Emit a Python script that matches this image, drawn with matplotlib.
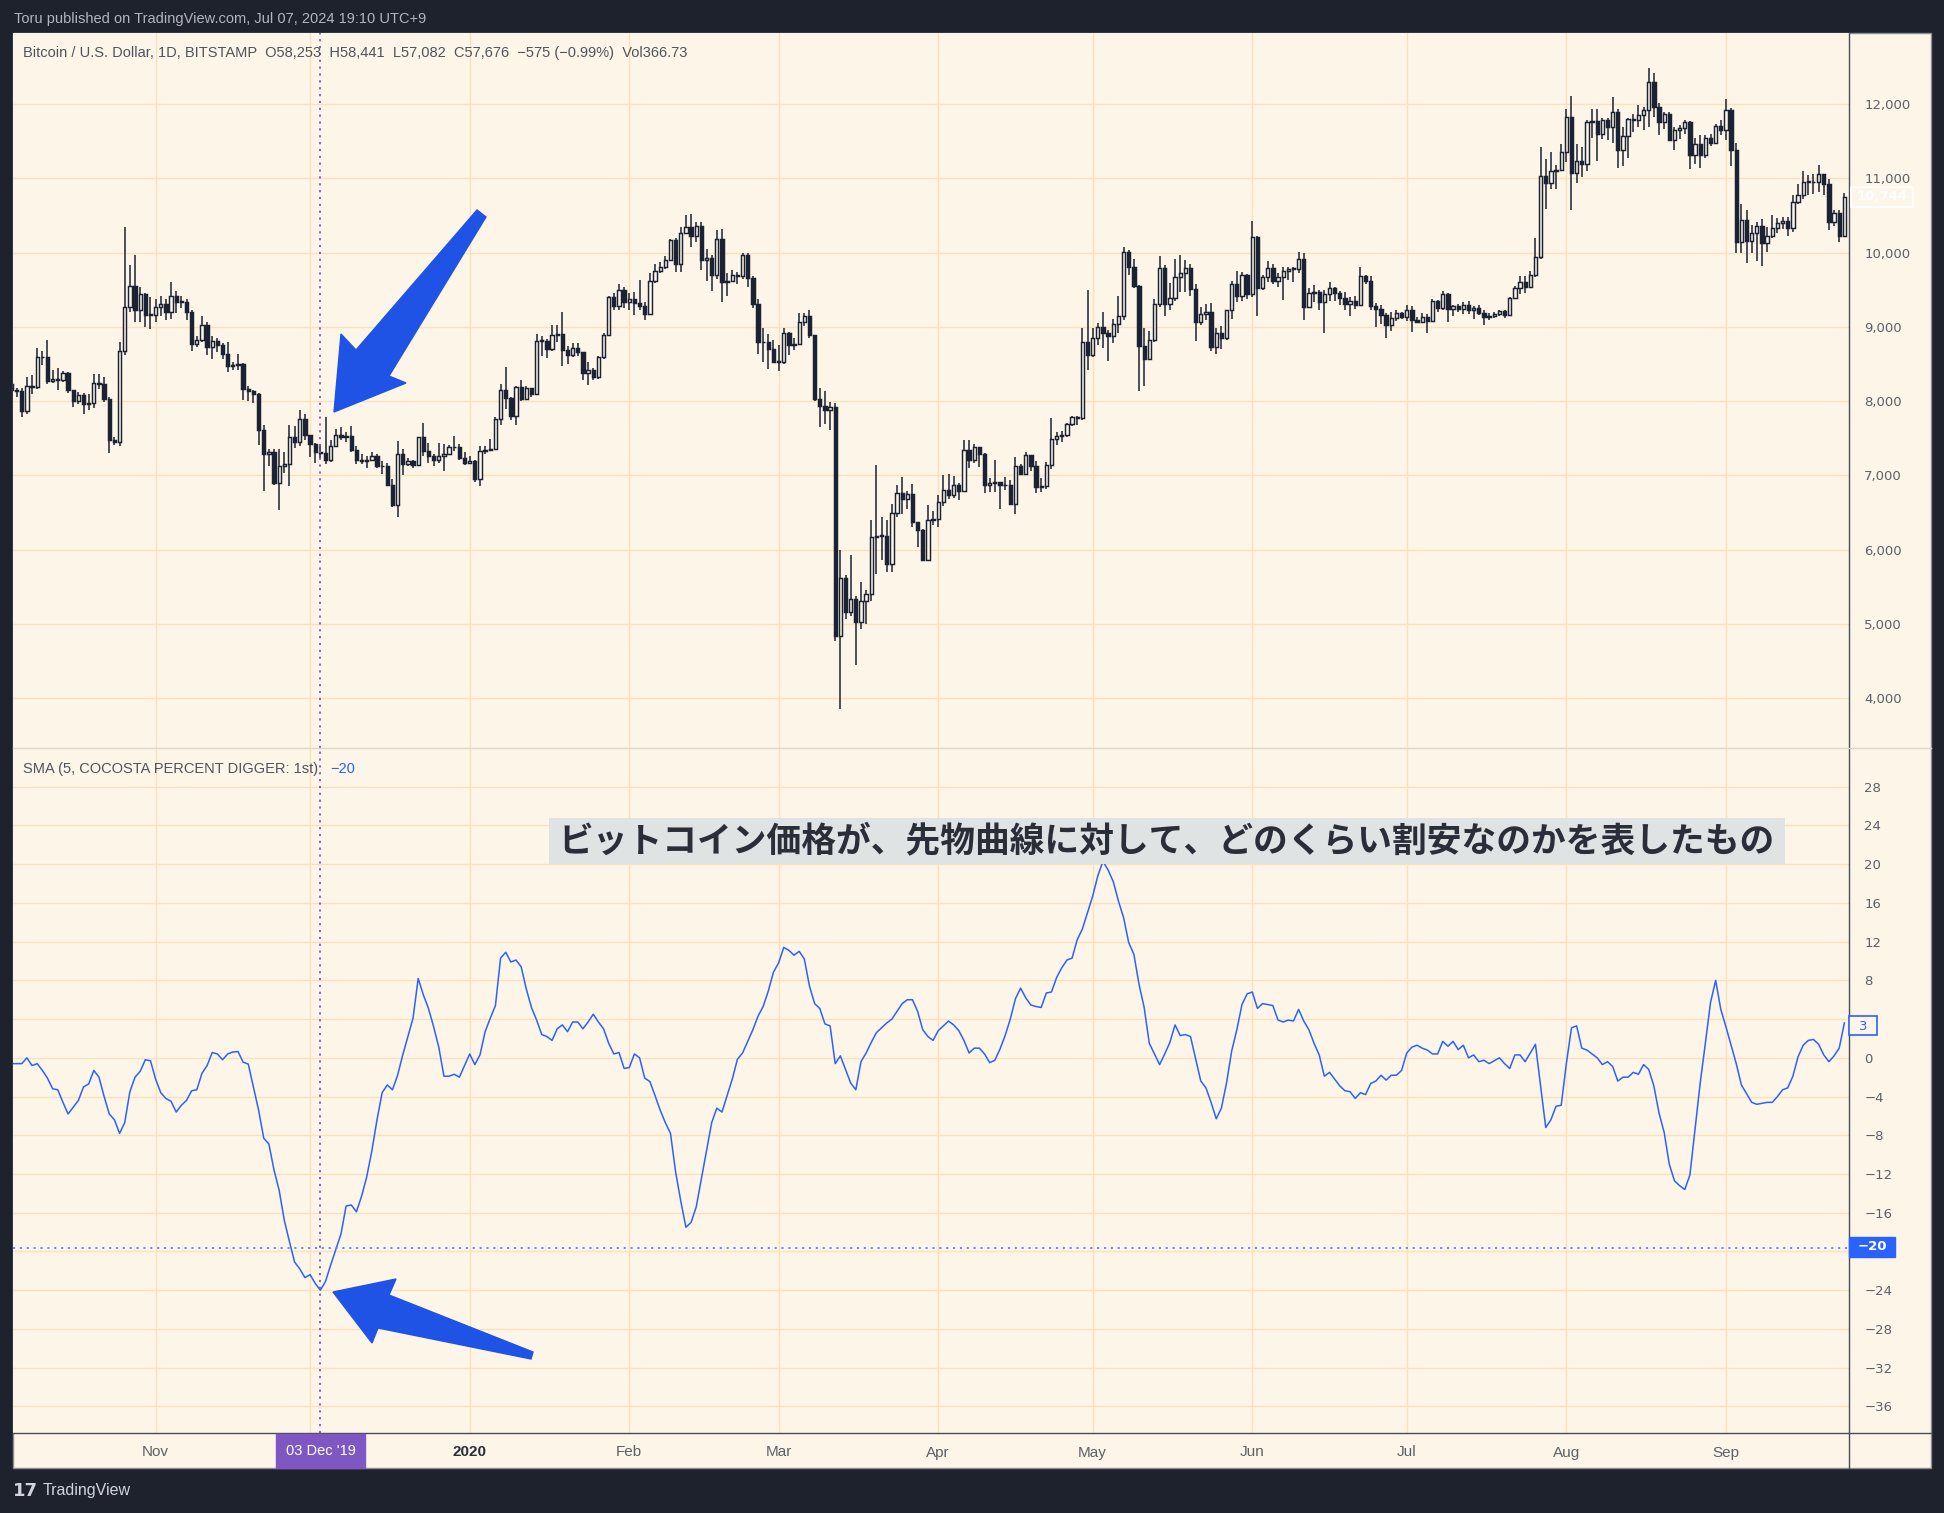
import numpy as np
import pandas as pd
import matplotlib
matplotlib.use('Agg')
import matplotlib.pyplot as plt
import matplotlib.dates as mdates
from matplotlib.patches import Rectangle, Polygon
from matplotlib.lines import Line2D

# ---- daily BTCUSD candles (Bitstamp, 1D), 2019-10-04 .. 2020-09-24 ----
first_open = 8230

close_oct = [8150, 8140, 7860, 8206, 8184, 8587, 8590, 8264, 8300, 8290, 8376, 8152, 7995, 8076,
             7960, 7973, 8242, 8228, 8031, 7471, 7444, 8668, 9264, 9556, 9220, 9444, 9161, 9160]
high_oct = [8240, 8180, 8170, 8320, 8350, 8710, 8670, 8820, 8420, 8450, 8410, 8390, 8100, 8120,
            8110, 8090, 8370, 8370, 8330, 8050, 7510, 8790, 10350, 9830, 9970, 9530, 9450, 9400]
low_oct = [8050, 8060, 7790, 7830, 8100, 8160, 8480, 8230, 8240, 8150, 8260, 8110, 7920, 7960,
           7830, 7880, 7900, 8160, 7990, 7300, 7410, 7400, 8620, 9200, 9070, 9070, 9000, 8970]

close_nov = [9264, 9309, 9206, 9421, 9340, 9340, 9206, 8771, 8816, 9027, 8722, 8811, 8758, 8636, 8466,
             8489, 8497, 8166, 8130, 8094, 7614, 7287, 7314, 6897, 7121, 7152, 7520, 7444, 7758, 7547]
high_nov = [9380, 9410, 9380, 9600, 9480, 9420, 9370, 9220, 8870, 9150, 9070, 8870, 8850, 8780, 8800,
            8530, 8640, 8510, 8200, 8150, 8110, 7680, 7360, 7360, 7350, 7320, 7680, 7660, 7880, 7830]
low_nov = [9060, 9140, 9090, 9100, 9180, 9250, 9090, 8680, 8730, 8790, 8620, 8560, 8660, 8560, 8390,
           8420, 8420, 8020, 8000, 7970, 7410, 6790, 7120, 6870, 6530, 7030, 6860, 7370, 7400, 7470]

close_dec = [7421, 7309, 7300, 7202, 7390, 7547, 7520, 7525, 7345, 7210, 7188, 7200, 7255, 7130, 7121, 6874,
             6605, 7291, 7152, 7188, 7143, 7516, 7323, 7255, 7202, 7255, 7287, 7377, 7386, 7233, 7166]
high_dec = [7530, 7430, 7420, 7790, 7480, 7630, 7650, 7580, 7670, 7400, 7280, 7260, 7310, 7290, 7190, 7160,
            6950, 7460, 7360, 7230, 7200, 7520, 7700, 7430, 7290, 7440, 7420, 7410, 7530, 7420, 7320]
low_dec = [7250, 7160, 7230, 7150, 7180, 7380, 7480, 7450, 7310, 7150, 7150, 7100, 7230, 7100, 7020, 6850,
           6570, 6440, 7010, 7120, 7100, 7130, 7260, 7160, 7120, 7170, 7060, 7270, 7330, 7210, 7140]

close_jan = [7193, 6946, 7328, 7346, 7360, 7755, 8147, 8043, 7800, 8192, 8021, 8169, 8093, 8812, 8810, 8700,
             8889, 8902, 8687, 8619, 8718, 8655, 8381, 8417, 8327, 8597, 8889, 9402, 9285, 9501, 9330]
high_jan = [7260, 7210, 7400, 7400, 7490, 7790, 8230, 8460, 8060, 8200, 8280, 8200, 8180, 8900, 8880, 8840,
            9020, 9020, 9200, 8740, 8780, 8780, 8660, 8520, 8450, 8610, 8920, 9420, 9460, 9570, 9530]
low_jan = [7150, 6910, 6860, 7290, 7330, 7350, 7680, 7890, 7740, 7680, 8000, 8020, 8060, 8090, 8610, 8580,
           8680, 8800, 8470, 8500, 8600, 8610, 8280, 8210, 8290, 8300, 8560, 8880, 9230, 9220, 9250]

close_feb = [9370, 9325, 9285, 9168, 9618, 9753, 9807, 9901, 10171, 9847, 10270, 10346, 10229, 10360, 9901,
             9924, 9699, 10184, 9600, 9613, 9699, 9690, 9969, 9663, 9303, 8790, 8799, 8700, 8529]
high_feb = [9450, 9470, 9630, 9340, 9720, 9850, 9870, 9950, 10180, 10200, 10350, 10510, 10520, 10410, 10410,
            10050, 9970, 10300, 10320, 9720, 9760, 9740, 10000, 10000, 9690, 9370, 8980, 8900, 8820]
low_feb = [9230, 9160, 9230, 9090, 9160, 9590, 9720, 9780, 9880, 9740, 9740, 10260, 10070, 10140, 9770,
           9620, 9480, 9650, 9330, 9420, 9600, 9580, 9650, 9540, 9260, 8630, 8530, 8430, 8530]

close_mar = [8530, 8920, 8754, 8763, 9069, 9145, 8889, 8021, 7935, 7881, 7922, 4832, 5614, 5156, 5336, 5021,
             5313, 5394, 6168, 6181, 6180, 5808, 6496, 6761, 6685, 6752, 6370, 6258, 5862, 6393, 6415]
high_mar = [8760, 8990, 8930, 8850, 9180, 9180, 9220, 8890, 8170, 8140, 7990, 7970, 5990, 5660, 5920, 5380,
            5560, 5450, 6400, 7140, 6440, 6400, 6610, 6870, 6980, 6790, 6880, 6300, 6270, 6600, 6520]
low_mar = [8410, 8500, 8620, 8690, 8760, 9010, 8850, 8000, 7650, 7690, 7610, 4770, 3850, 5070, 5110, 4440,
           4930, 5000, 5310, 5670, 5860, 5700, 5700, 6440, 6480, 6540, 6300, 6030, 5860, 5860, 6330]

close_apr = [6640, 6807, 6740, 6874, 6785, 7345, 7202, 7377, 7291, 6874, 6892, 6906, 6874, 6865, 6614,
             7121, 7022, 7269, 7121, 6838, 6852, 7134, 7489, 7533, 7547, 7695, 7789, 7770, 8789, 8623]
high_apr = [6740, 7000, 7020, 6990, 6890, 7470, 7470, 7420, 7380, 7300, 6960, 7200, 6900, 6980, 6930,
            7240, 7150, 7310, 7250, 7190, 6960, 7180, 7770, 7580, 7600, 7710, 7800, 7800, 8980, 9490]
low_apr = [6300, 6590, 6680, 6690, 6670, 6770, 7100, 7160, 7110, 6760, 6780, 6780, 6550, 6800, 6600,
           6480, 7000, 7030, 7060, 6760, 6780, 6820, 7090, 7410, 7450, 7510, 7670, 7680, 7740, 8420]

close_may = [8847, 8995, 8923, 8879, 9040, 9152, 10004, 9811, 9556, 8735, 8569, 8825, 9309, 9798, 9309, 9394,
             9677, 9731, 9798, 9511, 9071, 9179, 9193, 8722, 8910, 8847, 9220, 9583, 9421, 9699, 9448]
high_may = [8990, 9050, 9200, 8960, 9100, 9420, 10070, 10040, 9920, 9560, 8990, 8950, 9380, 9950, 9830, 9590,
            9910, 9970, 9900, 9840, 9570, 9270, 9310, 9320, 8980, 9010, 9230, 9620, 9750, 9740, 9710]
low_may = [8600, 8760, 8720, 8540, 8780, 8920, 9090, 9700, 9520, 8130, 8200, 8560, 8800, 9270, 9140, 9230,
           9350, 9470, 9470, 9420, 8810, 9020, 9090, 8680, 8630, 8700, 8820, 9110, 9330, 9350, 9380]

close_jun = [10215, 9529, 9677, 9798, 9619, 9677, 9753, 9784, 9780, 9910, 9269, 9462, 9475, 9340, 9439,
             9529, 9462, 9385, 9314, 9354, 9291, 9686, 9623, 9287, 9242, 9161, 9018, 9125, 9184, 9126]
high_jun = [10430, 10230, 9700, 9890, 9840, 9720, 9800, 9800, 9800, 10010, 9990, 9520, 9560, 9490, 9500,
            9600, 9540, 9480, 9470, 9400, 9420, 9800, 9700, 9690, 9320, 9290, 9190, 9200, 9230, 9200]
low_jun = [9400, 9150, 9500, 9610, 9570, 9530, 9360, 9630, 9600, 9720, 9090, 9250, 9340, 9230, 8920,
           9350, 9350, 9300, 9230, 9150, 9240, 9280, 9580, 9220, 9000, 9040, 8850, 8950, 9080, 9100]

close_jul = [9225, 9090, 9059, 9126, 9072, 9342, 9248, 9441, 9239, 9284, 9239, 9297, 9225, 9248, 9180, 9135,
             9149, 9171, 9207, 9158, 9383, 9527, 9608, 9540, 9702, 9936, 11038, 10934, 11105, 11114, 11352]
high_jul = [9290, 9280, 9130, 9190, 9170, 9370, 9360, 9480, 9450, 9300, 9310, 9340, 9350, 9280, 9290, 9230,
            9190, 9200, 9230, 9220, 9400, 9550, 9680, 9680, 9750, 10200, 11420, 11260, 11350, 11180, 11460]
low_jul = [9080, 8930, 9050, 9060, 8910, 9060, 9200, 9230, 9060, 9140, 9200, 9170, 9170, 9110, 9160, 9030,
           9090, 9120, 9140, 9120, 9150, 9380, 9440, 9450, 9540, 9670, 9920, 10590, 10860, 10860, 11100]

close_aug = [11825, 11069, 11227, 11191, 11757, 11771, 11591, 11780, 11690, 11892, 11388, 11564, 11793, 11790,
             11847, 11924, 12297, 11960, 11757, 11861, 11523, 11654, 11676, 11757, 11321, 11465, 11321, 11541,
             11474, 11703, 11645]
high_aug = [11930, 12110, 11460, 11420, 11790, 11930, 11930, 11810, 11810, 12090, 11940, 11690, 11810, 11870,
            11990, 11960, 12480, 12420, 12010, 11890, 11890, 11690, 11720, 11790, 11770, 11540, 11590, 11590,
            11600, 11730, 11790]
low_aug = [11220, 10570, 10940, 11020, 11100, 11550, 11230, 11530, 11520, 11480, 11140, 11160, 11280, 11620,
           11690, 11650, 11690, 11830, 11580, 11670, 11500, 11380, 11530, 11600, 11120, 11190, 11140, 11280,
           11440, 11460, 11580]

close_sep = [11915, 11388, 10147, 10444, 10161, 10260, 10363, 10125, 10228, 10336, 10395, 10431, 10332, 10678,
             10781, 10948, 10950, 10945, 11060, 10921, 10408, 10530, 10228, 10745]
high_sep = [12070, 11950, 11470, 10650, 10580, 10370, 10410, 10450, 10350, 10500, 10460, 10480, 10480, 10780,
            10930, 11100, 11040, 11060, 11180, 11050, 10990, 10570, 10580, 10800]
low_sep = [11510, 11170, 9990, 9990, 9860, 10000, 9890, 9820, 10010, 10200, 10260, 10320, 10230, 10280,
           10660, 10720, 10780, 10790, 10820, 10780, 10300, 10360, 10140, 10210]

# ---- SMA(5, COCOSTA PERCENT DIGGER: 1st), same days ----
osc_oct = [-0.6, -0.6, -0.6, 0.0, -0.8, -0.6, -1.3, -2.1, -3.2, -3.3, -4.6, -5.8, -5.1, -4.4, -3.0, -2.7,
           -1.3, -2.0, -4.0, -5.8, -6.4, -7.8, -6.7, -3.5, -2.0, -1.4, -0.2, -0.3]
osc_nov = [-2.2, -3.6, -4.2, -4.5, -5.6, -4.9, -4.4, -3.4, -3.3, -1.6, -0.8, 0.55, 0.4, -0.2, 0.4, 0.6,
           0.65, -0.45, -0.65, -3.0, -5.4, -8.3, -8.9, -11.6, -13.7, -16.8, -19.0, -21.1, -21.8, -22.7]
osc_dec = [-22.4, -23.3, -24.0, -23.1, -21.4, -19.8, -18.2, -15.3, -15.2, -15.9, -14.3, -12.3, -9.6, -6.4,
           -3.6, -2.8, -3.3, -1.8, 0.3, 2.2, 4.1, 8.2, 6.5, 5.1, 3.2, 1.1, -1.9, -1.9, -1.7, -2.0, -0.8]
osc_jan = [0.4, -0.7, 0.3, 2.7, 4.1, 5.4, 10.3, 10.9, 9.9, 10.1, 9.4, 7.1, 5.2, 3.9, 2.4, 2.2, 1.8, 3.0,
           3.4, 2.7, 3.7, 3.7, 3.0, 3.7, 4.5, 3.7, 3.0, 1.5, 0.4, 0.55, -1.1]
osc_feb = [-1.0, 0.4, 0.0, -2.1, -2.45, -3.9, -5.4, -6.7, -7.8, -11.8, -14.8, -17.5, -17.0, -15.4, -12.5,
           -9.6, -6.7, -5.2, -5.6, -3.9, -2.2, -0.15, 0.5, 1.7, 2.9, 4.3, 5.3, 6.9, 8.85]
osc_mar = [9.8, 11.4, 11.1, 10.6, 11.0, 10.2, 7.4, 5.6, 5.1, 3.5, 3.3, -0.6, 0.2, -1.2, -2.6, -3.3, -0.4,
           0.5, 1.6, 2.6, 3.1, 3.6, 4.0, 4.8, 5.6, 6.0, 6.0, 4.8, 2.9, 2.2, 1.8]
osc_apr = [2.8, 3.3, 3.8, 3.4, 2.8, 1.8, 0.5, 1.0, 1.0, 0.4, -0.5, -0.25, 0.9, 2.3, 4.0, 6.1, 7.2, 6.2,
           5.45, 5.3, 5.2, 6.7, 6.8, 8.3, 9.3, 10.1, 10.3, 12.2, 13.3, 15.0]
osc_may = [16.7, 18.8, 20.3, 19.4, 18.2, 16.2, 14.5, 11.9, 10.7, 7.6, 5.2, 1.5, 0.4, -0.7, 0.4, 1.6, 3.4,
           2.3, 2.4, 2.2, -0.1, -2.4, -3.1, -4.6, -6.3, -5.2, -2.6, 0.7, 2.9, 5.5, 6.6]
osc_jun = [6.8, 5.1, 5.6, 5.5, 5.4, 3.9, 3.7, 3.9, 3.8, 5.0, 3.8, 2.9, 1.5, 0.3, -1.9, -1.5, -2.2, -2.9,
           -3.4, -3.5, -4.2, -3.6, -3.8, -2.65, -2.4, -1.8, -2.3, -1.8, -1.8, -1.3]
osc_jul = [0.5, 1.1, 1.3, 1.0, 0.8, 0.4, 0.4, 1.7, 1.2, 1.7, 0.85, 1.3, 0.0, 0.3, -0.4, -0.25, -0.6, -0.3,
           0.0, -0.6, -1.1, 0.3, 0.3, -0.4, 0.5, 1.4, -2.9, -7.2, -6.4, -5.0, -4.9]
osc_aug = [-0.6, 3.1, 3.3, 1.0, 0.8, 0.4, 0.0, -0.7, -0.4, -0.9, -2.4, -2.0, -2.0, -1.5, -1.7, -0.7, -1.2,
           -2.9, -5.7, -7.7, -11.0, -12.7, -13.2, -13.6, -12.1, -7.4, -2.6, 1.5, 5.7, 8.0, 5.0]
osc_sep = [3.2, 1.3, -0.6, -2.8, -3.7, -4.6, -4.8, -4.7, -4.6, -4.6, -4.0, -3.3, -3.1, -1.9, 0.1, 1.3, 1.8,
           1.9, 1.4, 0.3, -0.4, 0.2, 1.0, 3.6]

price_ticks = [4000, 5000, 6000, 7000, 8000, 9000, 10000, 11000, 12000]
osc_ticks = list(range(-36, 29, 4))
osc_hidden = [4, -20]          # covered by the value / cursor badges on the scale
month_labels = ['Nov', '', '2020', 'Feb', 'Mar', 'Apr', 'May', 'Jun', 'Jul', 'Aug', 'Sep']

title_jp = 'ビットコイン価格が、先物曲線に対して、どのくらい割安なのかを表したもの'
header = 'Toru published on TradingView.com, Jul 07, 2024 19:10 UTC+9'
legend_top = ('Bitcoin / U.S. Dollar, 1D, BITSTAMP  O58,253  H58,441  L57,082  C57,676  '
              '\u2212575 (\u22120.99%)  Vol366.73')
legend_osc = 'SMA (5, COCOSTA PERCENT DIGGER: 1st)'

# ---- assemble ----
dates = pd.date_range('2019-10-04', '2020-09-24', freq='D')
xd = mdates.date2num(dates)
closes = np.array(close_oct + close_nov + close_dec + close_jan + close_feb + close_mar +
                  close_apr + close_may + close_jun + close_jul + close_aug + close_sep, float)
highs = np.array(high_oct + high_nov + high_dec + high_jan + high_feb + high_mar +
                 high_apr + high_may + high_jun + high_jul + high_aug + high_sep, float)
lows = np.array(low_oct + low_nov + low_dec + low_jan + low_feb + low_mar +
                low_apr + low_may + low_jun + low_jul + low_aug + low_sep, float)
osc = np.array(osc_oct + osc_nov + osc_dec + osc_jan + osc_feb + osc_mar +
               osc_apr + osc_may + osc_jun + osc_jul + osc_aug + osc_sep, float)
opens = np.r_[first_open, closes[:-1]]
highs = np.maximum(highs, np.maximum(opens, closes))
lows = np.minimum(lows, np.minimum(opens, closes))

CREAM = '#fdf5e8'
GRID = '#f9e1bb'
DARK = '#1b2234'
BLUE = '#2962ff'
PURPLE = '#7e57c2'
BG = '#1e222d'
TXT = '#5d6069'
UI = ['Liberation Sans', 'DejaVu Sans']

W, H = 1944, 1513
fig = plt.figure(figsize=(W / 100, H / 100), dpi=100, facecolor=BG)


def fp(px, py):
    return px / W, 1 - py / H


def fig_rect(x0, y0, x1, y1, **kw):
    r = Rectangle(fp(x0, y1), (x1 - x0) / W, (y1 - y0) / H, transform=fig.transFigure, **kw)
    fig.add_artist(r)
    return r


def fig_line(xs, ys, **kw):
    fig.add_artist(Line2D([x / W for x in xs], [1 - y / H for y in ys], transform=fig.transFigure, **kw))


fig_rect(13, 33, 1931, 1468, facecolor=CREAM, edgecolor='#8b8e96', lw=1, zorder=-5)

base = mdates.date2num(pd.Timestamp('2019-10-01'))
xlim = (base + 3.3, base + 359.9)

l, r = fp(13, 0)[0], fp(1849, 0)[0]
ax1 = fig.add_axes([l, fp(0, 748)[1], r - l, fp(0, 33)[1] - fp(0, 748)[1]])
ax2 = fig.add_axes([l, fp(0, 1433)[1], r - l, fp(0, 748)[1] - fp(0, 1433)[1]])

month_ticks = mdates.date2num(pd.date_range('2019-11-01', '2020-09-01', freq='MS'))

for ax in (ax1, ax2):
    ax.set_facecolor(CREAM)
    ax.set_xlim(*xlim)
    ax.set_xticks(month_ticks)
    ax.grid(True, color=GRID, lw=1)
    ax.set_axisbelow(True)
    for s in ax.spines.values():
        s.set_visible(False)
    ax.yaxis.tick_right()
    ax.tick_params(axis='y', length=0, pad=11, labelsize=9.5, labelcolor=TXT)

# candles
up = closes >= opens
body_lo = np.minimum(opens, closes)
body_h = np.maximum(np.abs(closes - opens), 10)
ax1.vlines(xd, lows, highs, color=DARK, lw=1.1, zorder=2)
ax1.bar(xd, body_h, bottom=body_lo, width=0.64, color=np.where(up, CREAM, DARK),
        edgecolor=DARK, lw=1.05, zorder=3)
ax1.set_ylim(3326, 12958)
ax1.set_yticks(price_ticks)
ax1.set_yticklabels([f'{v:,}' for v in price_ticks])
ax1.tick_params(axis='x', length=0, labelbottom=False)

# oscillator
ax2.plot(xd, osc, color=BLUE, lw=1.1, zorder=3)
ax2.set_ylim(-38.75, 32.0)
ax2.set_yticks(osc_ticks)
ax2.set_yticklabels(['' if v in osc_hidden else str(v).replace('-', '\u2212') for v in osc_ticks])
ax2.set_xticklabels(month_labels)
ax2.tick_params(axis='x', length=0, pad=9, labelsize=11, labelcolor=TXT)
for t in ax2.get_xticklabels():
    t.set_family(UI)
    if t.get_text() == '2020':
        t.set_fontweight('bold')
        t.set_color('#2a2e39')

# crosshair at 03 Dec '19
xc = mdates.date2num(pd.Timestamp('2019-12-03'))
for ax in (ax1, ax2):
    ax.axvline(xc, color=PURPLE, lw=1.3, ls=(0, (1.2, 2.6)), zorder=4)
ax2.axhline(-19.6, color='#5b86f5', lw=1.3, ls=(0, (1.2, 2.6)), zorder=4)

# frame lines
fig_line([1849, 1849], [33, 1468], color='#4a4d57', lw=1, zorder=6)
fig_line([13, 1931], [1433, 1433], color='#4a4d57', lw=1, zorder=6)
fig_line([13, 1931], [748, 748], color='#ddd6ca', lw=1, zorder=6)

# header / legends
fig.text(*fp(14, 19), header, color='#b2b5be', fontsize=10.5, family=UI, va='center')
fig.text(*fp(23, 53), legend_top, color='#50535e', fontsize=10.5, family=UI, va='center')
t_osc = fig.text(*fp(23, 769), legend_osc, color='#50535e', fontsize=10.5, family=UI, va='center')
ax2.annotate('\u221220', xy=(1, 0.5), xycoords=t_osc, xytext=(9, 0), textcoords='offset points',
             color=BLUE, fontsize=10.5, family=UI, va='center', ha='left', annotation_clip=False)

# scale labels
fig_rect(1851, 187, 1913, 207, facecolor='none', edgecolor='white', lw=1.2, zorder=7)
fig.text(*fp(1882, 197), '10,744', color='white', fontsize=9.5, ha='center', va='center',
         fontweight='bold', zorder=8)
fig_rect(1849, 1016, 1877, 1035, facecolor=CREAM, edgecolor=BLUE, lw=1.2, zorder=7)
fig.text(*fp(1863, 1026), '3', color=BLUE, fontsize=9.5, ha='center', va='center', zorder=8)
fig_rect(1849, 1237, 1895, 1257, facecolor=BLUE, edgecolor=BLUE, lw=1, zorder=7)
fig.text(*fp(1872, 1247), '\u221220', color='white', fontsize=9.5, ha='center', va='center',
         fontweight='bold', zorder=8)
fig_rect(276, 1434, 365, 1468, facecolor=PURPLE, edgecolor=PURPLE, lw=1, zorder=7)
fig.text(*fp(320.5, 1451), "03 Dec '19", color='white', fontsize=10.5, family=UI,
         ha='center', va='center', zorder=8)

# title box
fig_rect(549, 818, 1785, 864, facecolor='#dfe3e3', edgecolor='none', zorder=7)
fig.text(*fp(1167, 842), title_jp, color='#2a2e39', fontsize=25, fontweight='bold',
         family=['Noto Sans CJK JP', 'DejaVu Sans'], ha='center', va='center', zorder=8)

# drawn arrows
ARROW = '#1f53e5'
arrow_up = [(334, 412), (341, 334), (356, 350), (477, 210), (486, 217), (389, 376), (406, 383)]
arrow_dn = [(333, 1292), (396, 1279), (389, 1295), (533, 1352), (531, 1359), (378, 1328), (372, 1343)]
for pts in (arrow_up, arrow_dn):
    fig.add_artist(Polygon([fp(px, py) for px, py in pts], closed=True, transform=fig.transFigure,
                           facecolor=ARROW, edgecolor=ARROW, lw=1, zorder=9))

# footer
fig.text(*fp(13, 1491), '17', color='#d1d4dc', fontsize=13, fontweight='bold', va='center',
         family='DejaVu Sans')
fig.text(*fp(43, 1491), 'TradingView', color='#d1d4dc', fontsize=11.5, family=UI, va='center')

fig.savefig('out.png', dpi=100, facecolor=BG)
